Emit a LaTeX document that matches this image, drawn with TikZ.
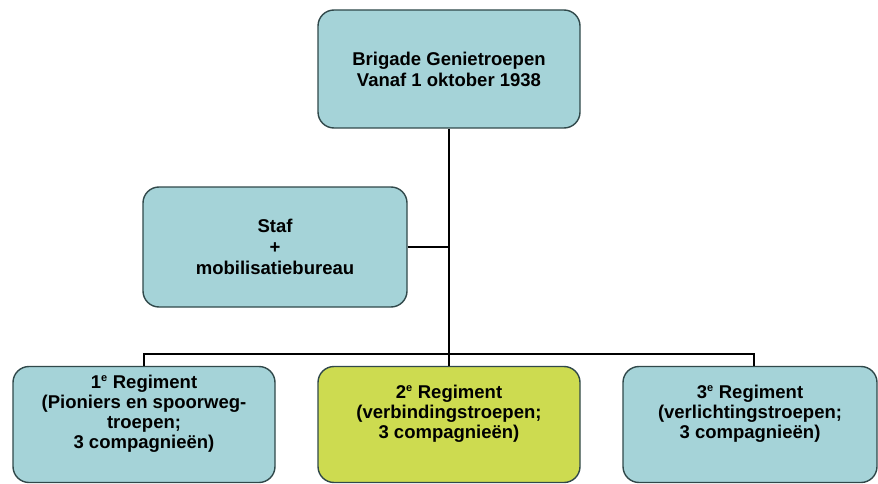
\documentclass[tikz,border=0pt]{standalone}
\usepackage{fontspec}
\setmainfont{Liberation Sans}
\definecolor{boxblue}{RGB}{165,211,216}
\definecolor{boxlime}{RGB}{205,219,80}
\definecolor{boxline}{RGB}{48,72,74}
\newcommand{\ordsup}[1]{\textsuperscript{\fontsize{11}{11}\selectfont #1}}
\begin{document}
\begin{tikzpicture}[x=1pt, y=-1pt,
        unit/.style={draw=boxline, line width=1.4pt, fill=boxblue, rounded corners=16pt,
            align=center, font=\fontsize{18.5}{21}\selectfont\bfseries, inner sep=0pt},
        regtext/.style={align=center, font=\fontsize{18.5}{20}\selectfont\bfseries, inner sep=0pt, yshift=11pt},
        link/.style={line width=2.4pt, black}]
    \useasboundingbox (0,0) rectangle (878,484);
    \pgfmathsetmacro{\regy}{424.5}
        \node[unit, minimum width=262, minimum height=118] (brig) at (449,69) {Brigade Genietroepen\\Vanaf 1 oktober 1938};
        \node[unit, minimum width=264, minimum height=120] (staf) at (275,247) {Staf\\+\\mobilisatiebureau};
        \node[unit, minimum width=262, minimum height=116,
            label={[regtext]center:1\ordsup{e} Regiment\\(Pioniers en spoorweg-\\troepen;\\3 compagnieën)}] (reg1) at (144,\regy) {};
        \node[unit, fill=boxlime, minimum width=262, minimum height=116,
            label={[regtext]center:2\ordsup{e} Regiment\\(verbindingstroepen;\\3 compagnieën)}] (reg2) at (449,\regy) {};
        \node[unit, minimum width=254, minimum height=116,
            label={[regtext]center:3\ordsup{e} Regiment\\(verlichtingstroepen;\\3 compagnieën)}] (reg3) at (750,\regy) {};
        \coordinate (bus) at (449,354);
        \draw[link] (brig.south) -- (reg2.north);
        \draw[link] (staf.east) -- (staf.east -| brig.south);
        \draw[link] (reg1.north) |- (bus) -| ([xshift=4pt]reg3.north);
    \end{tikzpicture}
\end{document}
